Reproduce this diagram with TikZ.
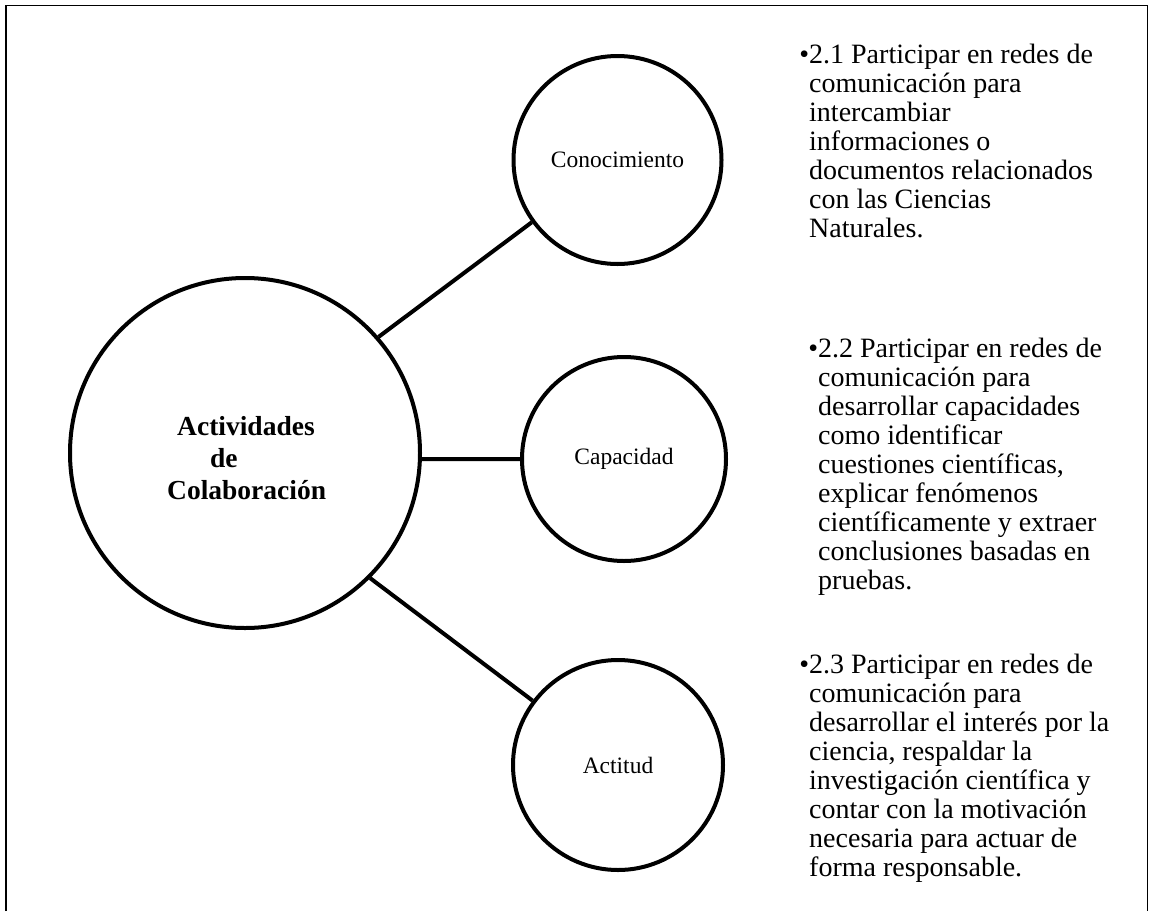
\documentclass[tikz,border=0pt]{standalone}
\usepackage{fontspec}
\setmainfont{Liberation Serif}
\begin{document}
\begin{tikzpicture}[x=1pt,y=-1pt,
  circ/.style={circle,draw,line width=4pt,inner sep=0pt},
  conn/.style={line width=4pt},
  lbl/.style={font=\fontsize{23.5}{26}\selectfont},
  item/.style={anchor=base west,align=left,inner sep=0pt,font=\fontsize{28}{29}\selectfont}]
\useasboundingbox (0,0) rectangle (1149,911);
\draw[line width=1.6pt] (6,911) -- (6,5.5) -- (1147.5,5.5) -- (1147.5,911);
\node[circ,minimum size=350pt] (big) at (245,453) {};
\node[circ,minimum size=208pt,lbl] (con) at (617.5,160) {Conocimiento};
\node[circ,minimum size=204pt,lbl] (cap) at (624,459) {Capacidad};
\node[circ,minimum size=210pt,lbl] (act) at (618,765) {Actitud};
\draw[conn] (big.41) -- (con.216);
\draw[conn] (big.-2) -- (cap.180);
\draw[conn] (big.-45) -- (act.143.5);
% base anchor of a multi-line node = baseline of its last line
\node[anchor=base west,align=left,inner sep=0pt,font=\bfseries\fontsize{27.5}{32}\selectfont] (bigtxt) at (167,499)
  {\hspace*{10pt}Actividades\\\hspace*{43pt}de\\Colaboración};
\node[item] (t1) at (809,237) {\llap{\textbullet}2.1 Participar en redes de\\comunicación para\\intercambiar\\informaciones o\\documentos relacionados\\con las Ciencias\\Naturales.};
\node[item] (t2) at (818,589) {\llap{\textbullet}2.2 Participar en redes de\\comunicación para\\desarrollar capacidades\\como identificar\\cuestiones científicas,\\explicar fenómenos\\científicamente y extraer\\conclusiones basadas en\\pruebas.};
\node[item] (t3) at (809,876) {\llap{\textbullet}2.3 Participar en redes de\\comunicación para\\desarrollar el interés por la\\ciencia, respaldar la\\investigación científica y\\contar con la motivación\\necesaria para actuar de\\forma responsable.};
\end{tikzpicture}
\end{document}
